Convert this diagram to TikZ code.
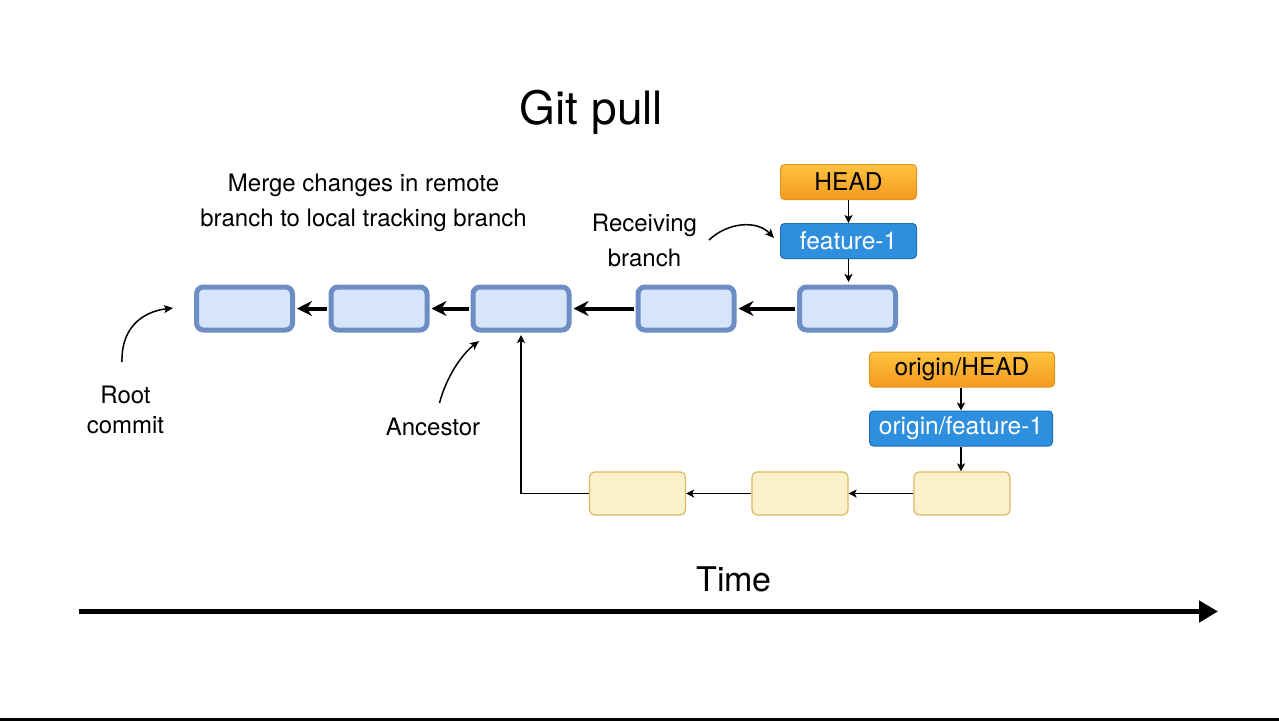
\documentclass[tikz,border=0pt]{standalone}
\usepackage{fontspec}
\setmainfont{TeX Gyre Heros}
\usetikzlibrary{arrows.meta}
\definecolor{commitfill}{HTML}{D6E5FA}
\definecolor{commitdraw}{HTML}{6C8EC4}
\definecolor{remfill}{HTML}{FDF0CC}
\definecolor{remdraw}{HTML}{D9BA63}
\definecolor{brblue}{HTML}{2E8FDE}
\definecolor{brbluedraw}{HTML}{1E6FB8}
\definecolor{headtop}{HTML}{FFC23F}
\definecolor{headbot}{HTML}{F39A1E}
\definecolor{headdraw}{HTML}{E0951F}
\newcommand{\lblfont}{\fontsize{24.5}{28}\selectfont}
\begin{document}
\begin{tikzpicture}[x=1pt,y=-1pt,
  commit/.style={rectangle, rounded corners=7pt, draw=commitdraw, fill=commitfill,
    line width=5pt, minimum width=96pt, minimum height=43pt, inner sep=0pt},
  remote/.style={rectangle, rounded corners=5pt, draw=remdraw, fill=remfill,
    line width=1.2pt, minimum width=96pt, minimum height=43pt, inner sep=0pt},
  headbox/.style={rectangle, rounded corners=4pt, draw=headdraw, line width=1pt,
    top color=headtop, bottom color=headbot, text=black, font=\lblfont,
    inner sep=0pt, minimum height=35pt},
  branchbox/.style={rectangle, rounded corners=4pt, draw=brbluedraw, line width=1pt,
    fill=brblue, text=white, font=\lblfont, inner sep=0pt, minimum height=35pt},
  bigarrow/.style={line width=4pt, -{Stealth[length=15pt,width=15pt,inset=5pt]}},
  thinarrow/.style={line width=1.5pt, -{Stealth[length=8pt,width=8pt,inset=2pt]}},
  curvearrow/.style={line width=1.5pt, -{Stealth[length=9pt,width=8pt,inset=2pt]}},
  label/.style={inner sep=0pt, align=center}
]
% background / bounding box
\fill[white] (0,0) rectangle (1279,721);
\useasboundingbox (0,0) rectangle (1279,721);
\fill[black] (0,718) rectangle (1279,721);

% title
\node[font=\fontsize{46}{55}\selectfont, anchor=base, inner sep=0pt] (title) at (591.5,124) {Git pull};
\node[label, font=\fontsize{24}{35}\selectfont] (merge) at (363.5,203) {Merge changes in remote\\branch to local tracking branch};

% local commits
\node[commit] (c1) at (244.5,308.5) {};
\node[commit] (c2) at (379,308.5) {};
\node[commit] (c3) at (521,308.5) {};
\node[commit] (c4) at (686,308.5) {};
\node[commit] (c5) at (847.5,308.5) {};
\draw[bigarrow, shorten >=2pt, shorten <=2pt] (c5.west) -- (c4.east);
\draw[bigarrow, shorten >=2pt, shorten <=2pt] (c4.west) -- (c3.east);
\draw[bigarrow, shorten >=2pt, shorten <=2pt] (c3.west) -- (c2.east);
\draw[bigarrow, shorten >=2pt, shorten <=2pt] (c2.west) -- (c1.east);

% HEAD / feature-1
\node[headbox, minimum width=136pt] (head) at (848.5,182) {HEAD};
\node[branchbox, minimum width=136pt] (feat) at (848.5,241) {feature-1};
\draw[thinarrow] (head.south) -- (feat.north);
\draw[thinarrow, shorten >=2.5pt] (feat.south) -- (feat.south |- c5.north);

% remote
\node[headbox, minimum width=185pt] (ohead) at (962,369.5) {origin/HEAD};
\node[branchbox, minimum width=183pt] (ofeat) at (961,428.5) {origin/feature-1};
\node[remote] (r1) at (637.5,493.5) {};
\node[remote] (r2) at (800,493.5) {};
\node[remote] (r3) at (962,493.5) {};
\draw[thinarrow] (ohead.south -| ofeat.south) -- (ofeat.north);
\draw[thinarrow] (ofeat.south) -- (ofeat.south |- r3.north);
\draw[thinarrow] (r3.west) -- (r2.east);
\draw[thinarrow] (r2.west) -- (r1.east);
\draw[thinarrow, shorten >=2.5pt] (r1.west) -| (c3.south);

% annotations
\node[label, font=\fontsize{24}{35}\selectfont] (recv) at (644.5,240.5) {Receiving\\branch};
\coordinate (recvs) at (709,240);
\coordinate (recve) at (774,238);
\draw[curvearrow] (recvs) .. controls (728,222) and (757,220) .. (recve);

\node[label, font=\fontsize{24}{30}\selectfont] (root) at (125.5,409.7) {Root\\commit};
\coordinate (roots) at (122,362);
\coordinate (roote) at (173,308);
\draw[curvearrow] (roots) .. controls (121,330) and (140,312) .. (roote);

\node[label, font=\fontsize{24}{28}\selectfont, anchor=base] (anc) at (433,435.7) {Ancestor};
\coordinate (ancs) at (439.5,403);
\coordinate (ance) at (479,341);
\draw[curvearrow] (ancs) .. controls (446,378) and (461,355) .. (ance);

% time axis
\node[font=\fontsize{34}{40}\selectfont, anchor=base, inner sep=0pt] (time) at (734,591.5) {Time};
\coordinate (tstart) at (79,611.5);
\coordinate (tend) at (1218,611.5);
\draw[line width=5.5pt, -{Triangle[length=19pt,width=21pt]}] (tstart) -- (tend);
\end{tikzpicture}
\end{document}
